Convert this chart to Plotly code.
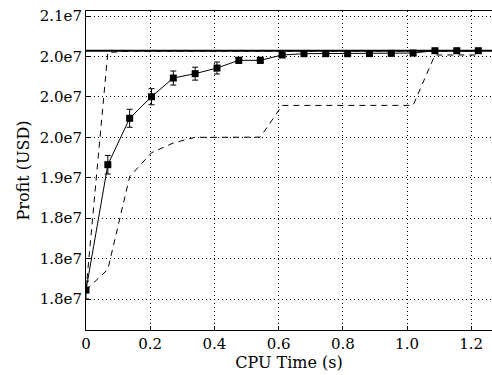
import plotly.graph_objects as go

# CPU time samples (s)
cpu_time = [0.0, 0.068, 0.136, 0.204, 0.272, 0.340, 0.408, 0.476, 0.543, 0.611,
            0.679, 0.747, 0.815, 0.883, 0.951, 1.019, 1.087, 1.155, 1.222]
# mean profit with error bars
profit_mean = [1.7611e7, 1.9161e7, 1.9735e7, 2.0002e7, 2.0233e7, 2.0287e7, 2.0357e7,
               2.0452e7, 2.0452e7, 2.0518e7, 2.0534e7, 2.0534e7, 2.0534e7, 2.0535e7,
               2.0538e7, 2.0542e7, 2.0571e7, 2.0571e7, 2.0571e7]
profit_err = [110000, 115000, 111000, 99000, 87000, 80000, 74000, 37000, 37000, 25000,
              20000, 20000, 20000, 20000, 20000, 20000, 20000, 20000, 20000]
# best run (upper dashed)
profit_best = [1.7611e7, 2.0548e7, 2.0566e7, 2.0566e7, 2.0566e7, 2.0566e7, 2.0566e7,
               2.0566e7, 2.0566e7, 2.0566e7, 2.0566e7, 2.0566e7, 2.0566e7, 2.0566e7,
               2.0566e7, 2.0566e7, 2.0566e7, 2.0566e7, 2.0566e7]
# worst run (lower dashed)
profit_worst = [1.7611e7, 1.7867e7, 1.9013e7, 1.9309e7, 1.9430e7, 1.9500e7, 1.9500e7,
                1.9501e7, 1.9502e7, 1.9894e7, 1.9894e7, 1.9894e7, 1.9894e7, 1.9894e7,
                1.9894e7, 1.9895e7, 2.0518e7, 2.0518e7, 2.0518e7]
optimal_profit = 2.0571e7

y_ticks = [1.75e7, 1.80e7, 1.85e7, 1.90e7, 1.95e7, 2.00e7, 2.05e7, 2.10e7]
y_tick_labels = ["1.8e7", "1.8e7", "1.8e7", "1.9e7", "2.0e7", "2.0e7", "2.0e7", "2.1e7"]
x_ticks = [0, 0.2, 0.4, 0.6, 0.8, 1.0, 1.2]
x_tick_labels = ["0", "0.2", "0.4", "0.6", "0.8", "1.0", "1.2"]

FONT = "DejaVu Serif"

fig = go.Figure()

fig.add_trace(go.Scatter(
    x=cpu_time, y=profit_best, mode="lines",
    line=dict(color="black", width=1, dash="6px,5px"), showlegend=False))
fig.add_trace(go.Scatter(
    x=cpu_time, y=profit_worst, mode="lines",
    line=dict(color="black", width=1, dash="6px,5px"), showlegend=False))
fig.add_hline(y=optimal_profit, line=dict(color="black", width=2))
fig.add_trace(go.Scatter(
    x=cpu_time, y=profit_mean, mode="lines+markers",
    line=dict(color="black", width=1),
    marker=dict(symbol="square", size=7, color="black"),
    error_y=dict(type="data", array=profit_err, visible=True,
                 color="black", thickness=1, width=3),
    showlegend=False))

fig.update_layout(
    width=492, height=375,
    margin=dict(l=86, r=0, t=11, b=45),
    plot_bgcolor="white", paper_bgcolor="white",
    font=dict(family=FONT, size=15, color="black"),
)
fig.update_xaxes(
    range=[0, 1.2647], tickvals=x_ticks, ticktext=x_tick_labels,
    showgrid=True, gridcolor="black", griddash="1px,3px", gridwidth=1,
    showline=True, linecolor="black", linewidth=1, mirror=True,
    ticks="inside", ticklen=4, tickcolor="black", zeroline=False,
    automargin=False,
    title=dict(text="CPU Time (s)", font=dict(family=FONT, size=16), standoff=0),
)
fig.update_yaxes(
    range=[1.7117e7, 2.1062e7], tickvals=y_ticks, ticktext=y_tick_labels,
    showgrid=True, gridcolor="black", griddash="1px,3px", gridwidth=1,
    showline=True, linecolor="black", linewidth=1,
    ticks="inside", ticklen=4, tickcolor="black", zeroline=False,
    automargin=False,
    title=dict(text="Profit (USD)", font=dict(family=FONT, size=16), standoff=6),
)

fig.write_html("out.html", config={"displayModeBar": False},
               post_script="document.body.style.margin='0';document.body.style.overflow='hidden';")
